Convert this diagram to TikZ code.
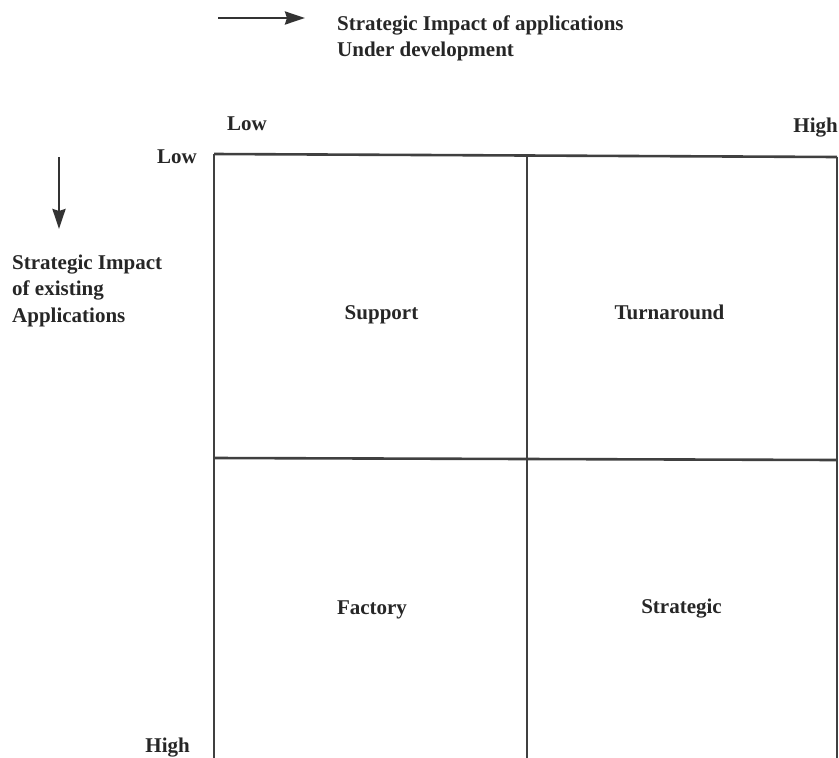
\documentclass[tikz,border=0pt]{standalone}
\usepackage{fontspec}
\setmainfont{Liberation Serif}
\usetikzlibrary{arrows.meta}
\begin{document}
\begin{tikzpicture}[x=1pt,y=-1pt,
  lbl/.style={font=\bfseries\fontsize{21}{26.5}\selectfont, text=black!85, inner sep=0pt},
  grid/.style={line width=2.6pt, draw=black!75},
  axisarrow/.style={line width=2.6pt, draw=black!80, -{Stealth[length=20pt,width=13pt,inset=2pt]}}]
  \useasboundingbox (0,0) rectangle (839,758);
  % matrix corners
  \coordinate (tl) at (214,154);
  \coordinate (tm) at (527,156);
  \coordinate (tr) at (837,157);
  \coordinate (ml) at (214,458);
  \coordinate (mr) at (837,460);
  \coordinate (bl) at (214,760);
  \coordinate (bm) at (527,760);
  \coordinate (br) at (837,760);
  % grid lines
  \draw[grid] (tl) -- (tr);
  \draw[grid] (tl) -- (bl);
  \draw[grid] (tm) -- (bm);
  \draw[grid] (tr) -- (br);
  \draw[grid] (ml) -- (mr);
  % axis arrows
  \coordinate (ha) at (218,18);
  \coordinate (hb) at (305,18);
  \coordinate (va) at (59,157);
  \coordinate (vb) at (59,229);
  \draw[axisarrow] (ha) -- (hb);
  \draw[axisarrow] (va) -- (vb);
  % axis titles
  \node[lbl, anchor=north west, align=left] (htitle) at (337,15.5) {Strategic Impact of applications\\Under development};
  \node[lbl, anchor=north west, align=left] (vtitle) at (12,254.5) {Strategic Impact\\of existing\\Applications};
  % scale labels
  \node[lbl, anchor=base west] (lowx) at (227,130) {Low};
  \node[lbl, anchor=base east] (highx) at (838,132) {High};
  \node[lbl, anchor=base east] (lowy) at (197,163) {Low};
  \node[lbl, anchor=base east] (highy) at (190,752) {High};
  % quadrant names
  \node[lbl, anchor=base] (support) at (381.5,319) {Support};
  \node[lbl, anchor=base] (turn) at (669.5,319) {Turnaround};
  \node[lbl, anchor=base] (factory) at (372,614) {Factory};
  \node[lbl, anchor=base] (strategic) at (681.5,613) {Strategic};
\end{tikzpicture}
\end{document}
